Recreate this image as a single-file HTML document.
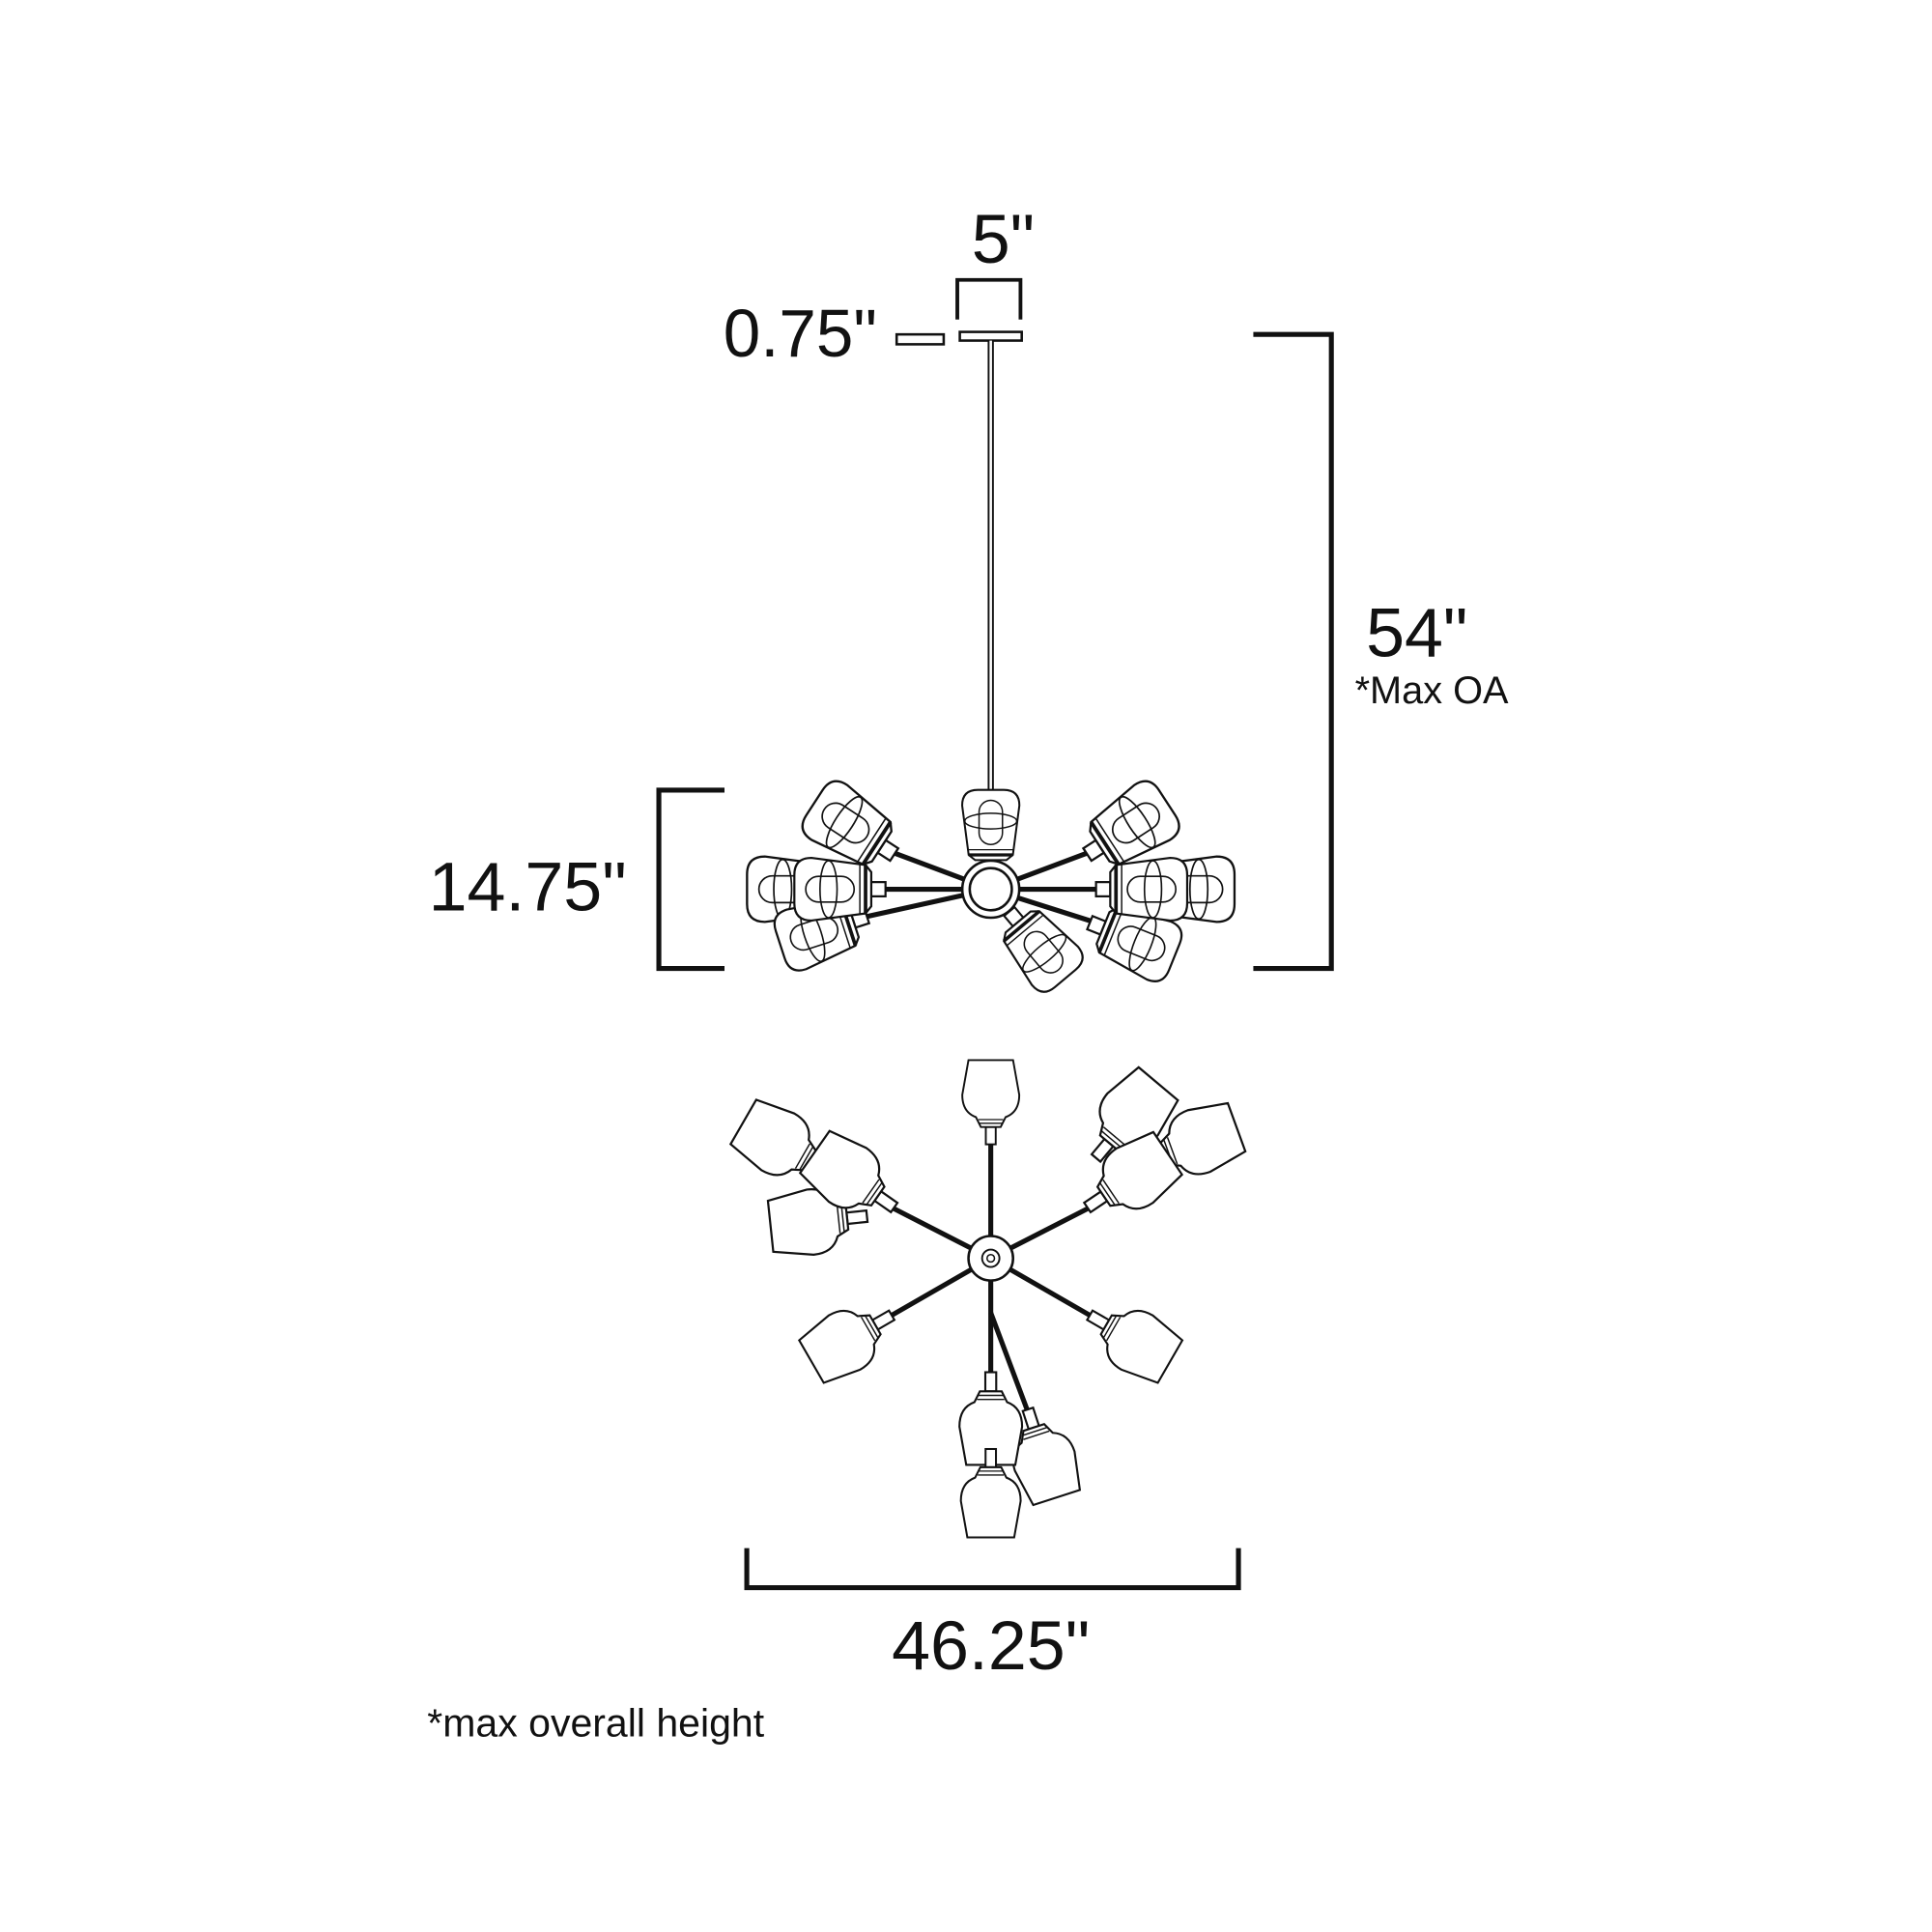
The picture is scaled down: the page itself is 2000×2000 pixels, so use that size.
<!DOCTYPE html>
<html><head><meta charset="utf-8"><style>
html,body{margin:0;padding:0;background:#fff;}
svg{display:block}
text{font-family:"Liberation Sans",sans-serif;fill:#111}
</style></head><body>
<svg width="2000" height="2000" viewBox="0 0 1560 1560" xmlns="http://www.w3.org/2000/svg">
<defs>
<g id="sh">
<rect x="0" y="-5" width="10" height="10" fill="#fff" stroke="#111" stroke-width="1.5"/>
<path d="M10,-12 L14,-17 L52,-22 Q64,-22 64,-10 L64,10 Q64,22 52,22 L14,17 L10,12 Z" fill="#fff" stroke="#111" stroke-width="1.5"/>
<line x1="14" y1="-17" x2="14" y2="17" stroke="#111" stroke-width="2.5"/>
<line x1="18" y1="-17" x2="18" y2="17" stroke="#111" stroke-width="1"/>
<rect x="22" y="-9" width="34" height="18" rx="9" fill="none" stroke="#111" stroke-width="1.1"/>
<ellipse cx="40" cy="0" rx="6" ry="20" fill="none" stroke="#111" stroke-width="1.1"/>
</g>
<g id="tu">
<rect x="0" y="-4" width="14" height="8" fill="#fff" stroke="#111" stroke-width="1.5"/>
<path d="M14,-8 L22,-12 Q26,-23 40,-23 L68,-18 L68,18 L40,23 Q26,23 22,12 L14,8 Z" fill="#fff" stroke="#111" stroke-width="1.5"/>
<line x1="17" y1="-9" x2="17" y2="9" stroke="#111" stroke-width="1"/>
<line x1="20" y1="-10" x2="20" y2="10" stroke="#111" stroke-width="1"/>
</g>
</defs>
<g fill="none" stroke="#111">
<path d="M773,258 V226 H824 V258" stroke-width="3"/>
<rect x="775" y="268" width="50" height="7" stroke-width="2"/>
<rect x="724" y="270" width="38" height="8" stroke-width="2"/>
<line x1="800" y1="275" x2="800" y2="700" stroke-width="5"/>
<line x1="800" y1="275" x2="800" y2="700" stroke="#fff" stroke-width="2"/>
<path d="M1012,270 H1075 V782 H1012" stroke-width="4"/>
<path d="M585,638 H532 V782 H585" stroke-width="4"/>
<path d="M603,1250 V1282 H1000 V1250" stroke-width="4"/>
<g stroke-width="4">
<line x1="800" y1="718" x2="720" y2="688"/>
<line x1="800" y1="718" x2="880" y2="688"/>
<line x1="800" y1="718" x2="710" y2="718"/>
<line x1="800" y1="718" x2="890" y2="718"/>
<line x1="800" y1="718" x2="700" y2="740"/>
<line x1="800" y1="718" x2="885" y2="745"/>
</g>
</g>
<g>
<use href="#sh" transform="translate(680,718) rotate(180) scale(1.2)"/>
<use href="#sh" transform="translate(920,718) rotate(0) scale(1.2)"/>
<use href="#sh" transform="translate(700,740) rotate(162) scale(1.15)"/>
<use href="#sh" transform="translate(880,745) rotate(22) scale(1.15)"/>
<use href="#sh" transform="translate(722,690) rotate(-147) scale(1.2)"/>
<use href="#sh" transform="translate(878,690) rotate(-33) scale(1.2)"/>
<use href="#sh" transform="translate(715,718) rotate(180) scale(1.15)"/>
<use href="#sh" transform="translate(885,718) rotate(0) scale(1.15)"/>
<use href="#sh" transform="translate(800,705) rotate(-90) scale(1.05)"/>
<use href="#sh" transform="translate(815,736) rotate(50) scale(1.1)"/>
<circle cx="800" cy="718" r="23" fill="#fff" stroke="#111" stroke-width="2"/>
<circle cx="800" cy="718" r="17" fill="none" stroke="#111" stroke-width="2"/>
</g>
<g fill="none" stroke="#111" stroke-width="4">
<line x1="800" y1="1016" x2="800" y2="922"/>
<line x1="800" y1="1016" x2="720" y2="975"/>
<line x1="800" y1="1016" x2="880" y2="975"/>
<line x1="800" y1="1016" x2="720" y2="1062"/>
<line x1="800" y1="1016" x2="880" y2="1062"/>
<line x1="800" y1="1016" x2="800" y2="1110"/>
<line x1="800" y1="1060" x2="830" y2="1140"/>
</g>
<g>
<use href="#tu" transform="translate(800,924) rotate(-90) scale(1.0)"/>
<use href="#tu" transform="translate(668,945) rotate(-150) scale(1.15)"/>
<use href="#tu" transform="translate(700,982) rotate(174) scale(1.15)"/>
<use href="#tu" transform="translate(722,975) rotate(-145) scale(1.15)"/>
<use href="#tu" transform="translate(885,935) rotate(-50) scale(1.15)"/>
<use href="#tu" transform="translate(925,937) rotate(-20) scale(1.15)"/>
<use href="#tu" transform="translate(878,975) rotate(-34) scale(1.15)"/>
<use href="#tu" transform="translate(720,1062) rotate(150) scale(1.1)"/>
<use href="#tu" transform="translate(880,1062) rotate(30) scale(1.1)"/>
<use href="#tu" transform="translate(830,1138) rotate(72) scale(1.1)"/>
<use href="#tu" transform="translate(800,1108) rotate(90) scale(1.1)"/>
<use href="#tu" transform="translate(800,1170) rotate(90) scale(1.05)"/>
<circle cx="800" cy="1016" r="18" fill="#fff" stroke="#111" stroke-width="2"/>
<circle cx="800" cy="1016" r="7" fill="none" stroke="#111" stroke-width="1.5"/>
<circle cx="800" cy="1016" r="3" fill="none" stroke="#111" stroke-width="1.2"/>
</g>
<text x="810" y="212" font-size="56" text-anchor="middle">5"</text>
<text x="584" y="288" font-size="54">0.75"</text>
<text x="1103" y="530" font-size="56">54"</text>
<text x="1094" y="568" font-size="31">*Max OA</text>
<text x="346" y="735" font-size="56">14.75"</text>
<text x="800" y="1348" font-size="56" text-anchor="middle">46.25"</text>
<text x="345" y="1402" font-size="32">*max overall height</text>
</svg>
</body></html>
